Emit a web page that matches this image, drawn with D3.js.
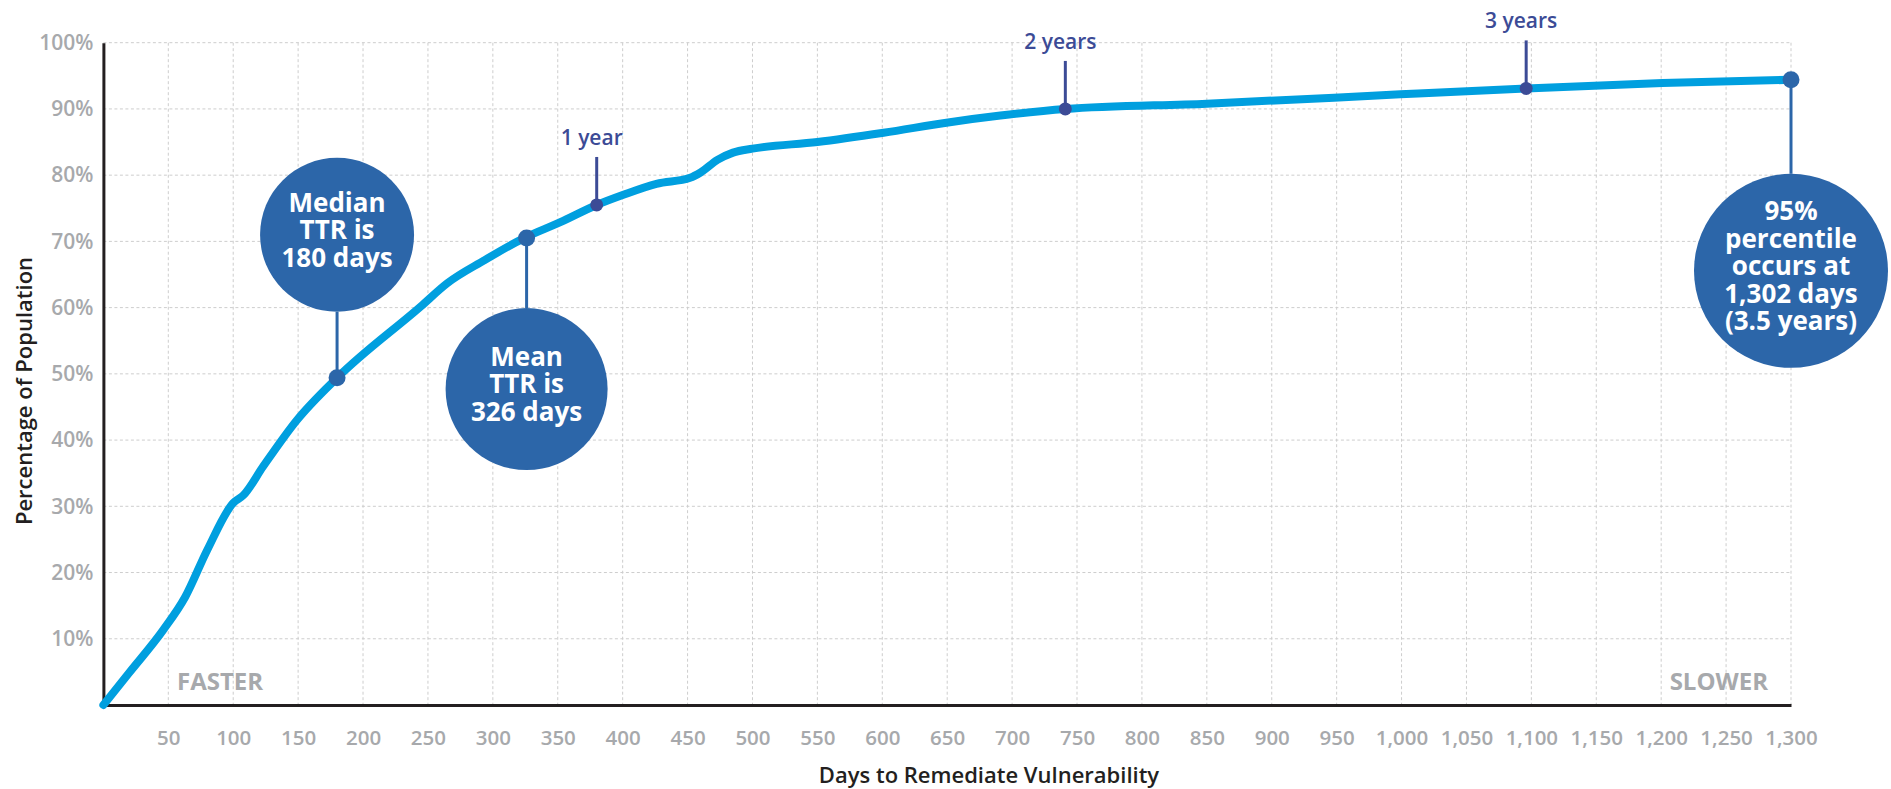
<!DOCTYPE html>
<html>
<head>
<meta charset="utf-8">
<script src="https://cdn.jsdelivr.net/npm/d3@7"></script>
<style>
  html, body { margin: 0; padding: 0; background: #ffffff; }
  svg { display: block; }
  text { font-family: "Open Sans", "Lato", sans-serif; }
</style>
</head>
<body>
<svg id="chart" width="1891" height="789"></svg>
<script>
// ---------------- DATA ----------------
const days = [0, 20, 46, 63, 80, 100, 108, 123, 149, 180, 244, 265, 293, 324, 352, 380, 400, 426, 452, 460, 473, 485, 500, 550, 601, 652, 691, 741, 850, 948, 999, 1096, 1201, 1300];
const pct  = [0, 4.9, 11.3, 16.3, 23.4, 30.5, 31.7, 36.0, 43.0, 49.4, 60.1, 63.7, 67.1, 70.5, 72.9, 75.5, 77.0, 78.7, 79.6, 80.4, 82.3, 83.4, 84.0, 85.0, 86.4, 88.0, 89.0, 90.0, 90.8, 91.7, 92.2, 93.1, 93.9, 94.4];

const xTickValues = [50, 100, 150, 200, 250, 300, 350, 400, 450, 500, 550, 600, 650, 700, 750, 800, 850, 900, 950, 1000, 1050, 1100, 1150, 1200, 1250, 1300];
const yTickValues = [10, 20, 30, 40, 50, 60, 70, 80, 90, 100];

const yearLabels = ["1 year", "2 years", "3 years"];
const yearDays   = [380, 741, 1096];
const yearPcts   = [75.5, 90.0, 93.1];

const calloutDays  = [180, 326, 1300];
const calloutPcts  = [49.4, 70.5, 94.4];
const calloutLines = [
  ["Median", "TTR is", "180 days"],
  ["Mean", "TTR is", "326 days"],
  ["95%", "percentile", "occurs at", "1,302 days", "(3.5 years)"]
];

const xTitle = "Days to Remediate Vulnerability";
const yTitle = "Percentage of Population";
const leftNote = "FASTER";
const rightNote = "SLOWER";

// ---------------- LAYOUT ----------------
const calloutLayout = [ { dy: -143, r: 77 }, { dy: 151, r: 81 }, { dy: 191, r: 97 } ];
const COL = {
  line: "#009fdf", bubble: "#2c66a9", year: "#3c4b96",
  tick: "#a7a9ac", axis: "#231f20", grid: "#cdcdcd"
};

const svg = d3.select("#chart");
const x = d3.scaleLinear().domain([0, 1300]).range([103.4, 1791]);
const y = d3.scaleLinear().domain([0, 100]).range([705, 42.7]);

// grid
const grid = svg.append("g");
grid.selectAll("line.v").data(xTickValues).join("line")
  .attr("x1", d => x(d)).attr("x2", d => x(d))
  .attr("y1", y(100)).attr("y2", y(0))
  .attr("stroke", COL.grid).attr("stroke-width", 1).attr("stroke-dasharray", "3,2.5");
grid.selectAll("line.h").data(yTickValues).join("line")
  .attr("x1", x(0)).attr("x2", x(1300))
  .attr("y1", d => y(d)).attr("y2", d => y(d))
  .attr("stroke", COL.grid).attr("stroke-width", 1).attr("stroke-dasharray", "3,2.5");

// axes
const xAxis = d3.axisBottom(x).tickValues(xTickValues).tickSize(0).tickSizeOuter(0).tickPadding(25)
  .tickFormat(d3.format(","));
const yAxis = d3.axisLeft(y).tickValues(yTickValues).tickSize(0).tickSizeOuter(0).tickPadding(10)
  .tickFormat(d => d + "%");

const gx = svg.append("g").attr("transform", `translate(0,${y(0)})`).call(xAxis);
gx.select(".domain").attr("stroke", COL.axis).attr("stroke-width", 3);
gx.selectAll("text").attr("fill", COL.tick).attr("font-size", 20.5).attr("font-weight", 600)
  .attr("font-family", "'Open Sans', sans-serif");

const gy = svg.append("g").attr("transform", `translate(${x(0)},0)`).call(yAxis);
gy.select(".domain").attr("stroke", COL.axis).attr("stroke-width", 3);
gy.selectAll("text").attr("fill", COL.tick).attr("font-size", 21).attr("font-weight", 600)
  .attr("font-family", "'Open Sans', sans-serif");

// titles
svg.append("text").attr("x", 989).attr("y", 783).attr("text-anchor", "middle")
  .attr("font-size", 22).attr("font-weight", 600).attr("fill", COL.axis).text(xTitle);
svg.append("text").attr("transform", "translate(32,391) rotate(-90)").attr("text-anchor", "middle")
  .attr("font-size", 22).attr("font-weight", 600).attr("fill", COL.axis).text(yTitle);

// faster / slower
svg.append("text").attr("x", 177).attr("y", 690).attr("font-size", 24).attr("font-weight", 700)
  .attr("fill", COL.tick).text(leftNote);
svg.append("text").attr("x", 1768).attr("y", 690).attr("text-anchor", "end").attr("font-size", 24)
  .attr("font-weight", 700).attr("fill", COL.tick).text(rightNote);

// curve
const pts = days.map((d, i) => [d, pct[i]]);
svg.append("path").datum(pts)
  .attr("d", d3.line().x(d => x(d[0])).y(d => y(d[1])).curve(d3.curveMonotoneX))
  .attr("fill", "none").attr("stroke", COL.line).attr("stroke-width", 8)
  .attr("stroke-linecap", "round").attr("stroke-linejoin", "round");

// year markers
const ym = svg.append("g");
yearLabels.forEach((lab, i) => {
  const cx = x(yearDays[i]), cy = y(yearPcts[i]);
  ym.append("line").attr("x1", cx).attr("x2", cx).attr("y1", cy - 48).attr("y2", cy)
    .attr("stroke", COL.year).attr("stroke-width", 3);
  ym.append("circle").attr("cx", cx).attr("cy", cy).attr("r", 6.5).attr("fill", COL.year);
  ym.append("text").attr("x", cx - 5).attr("y", cy - 60).attr("text-anchor", "middle")
    .attr("font-size", 21).attr("font-weight", 600).attr("fill", COL.year).text(lab);
});

// callouts
const co = svg.append("g");
calloutLines.forEach((lines, i) => {
  const px = x(calloutDays[i]), py = y(calloutPcts[i]);
  const L = calloutLayout[i];
  const cy = py + L.dy;
  const edge = L.dy < 0 ? cy + L.r : cy - L.r;
  co.append("line").attr("x1", px).attr("x2", px).attr("y1", py).attr("y2", edge)
    .attr("stroke", COL.bubble).attr("stroke-width", 3);
  co.append("circle").attr("cx", px).attr("cy", cy).attr("r", L.r).attr("fill", COL.bubble);
  co.append("circle").attr("cx", px).attr("cy", py).attr("r", 8.5).attr("fill", COL.bubble);
  const lh = 27.5;
  const top = cy - 5 - (lines.length - 1) * lh / 2;
  const t = co.append("text").attr("text-anchor", "middle").attr("font-size", 26)
    .attr("font-weight", 700).attr("fill", "#ffffff");
  lines.forEach((ln, j) => {
    t.append("tspan").attr("x", px).attr("y", top + j * lh).attr("dy", "0.36em").text(ln);
  });
});
</script>
</body>
</html>
